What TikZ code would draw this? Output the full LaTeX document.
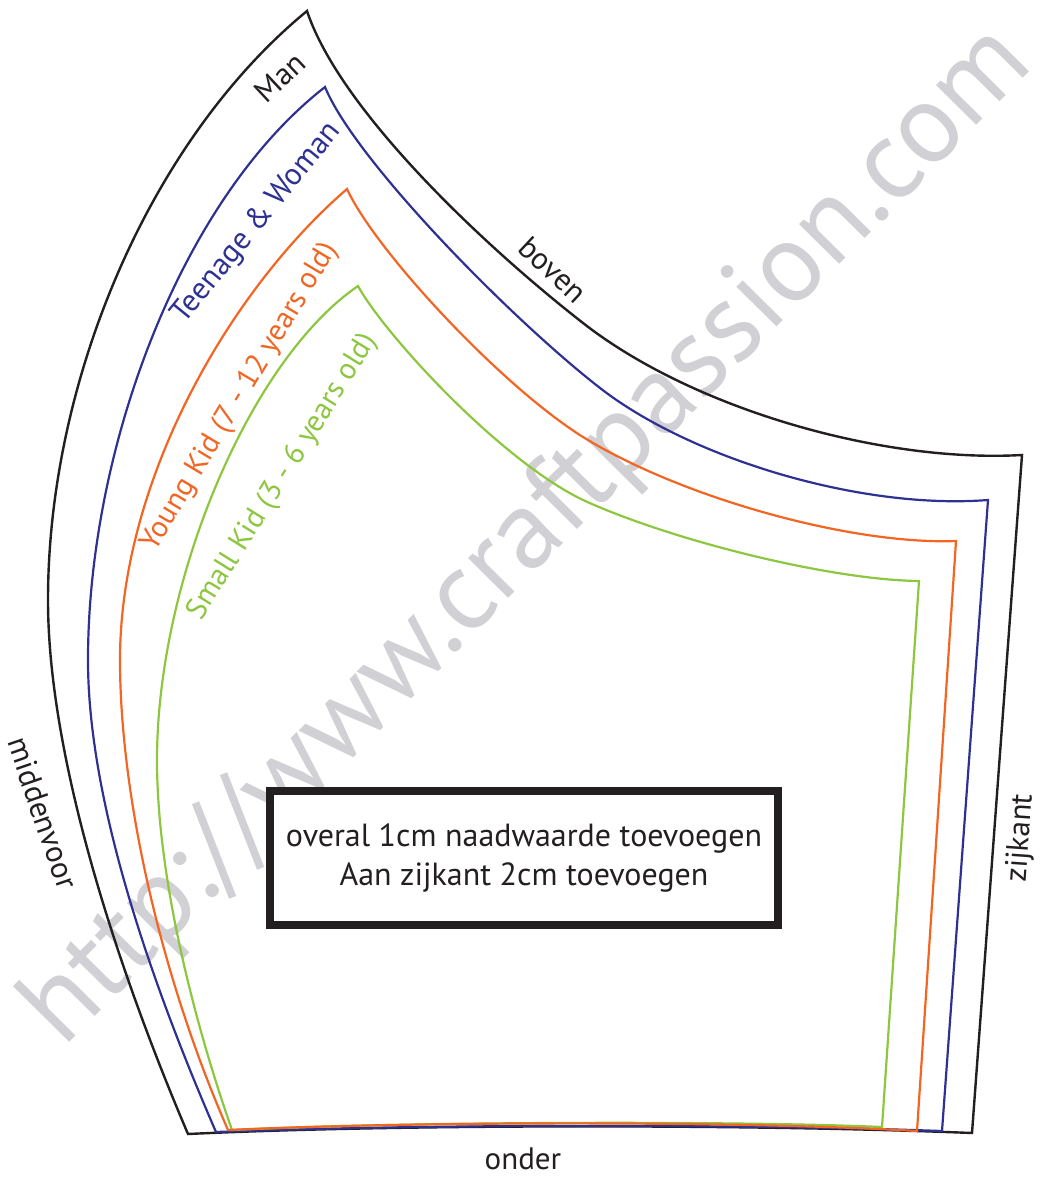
\documentclass[tikz,border=0pt]{standalone}
\usepackage{fontspec}
\setmainfont{PT Sans}
\definecolor{manblack}{HTML}{231F20}
\definecolor{teenblue}{HTML}{2E3192}
\definecolor{youngorange}{HTML}{F26522}
\definecolor{smallgreen}{HTML}{8DC63F}
\definecolor{markgray}{HTML}{D1D0D4}

\begin{document}
\begin{tikzpicture}[
        x=0.5pt,y=-0.5pt,
        outline/.style={line width=1.1pt, line join=miter},
        manline/.style={outline, draw=manblack, line width=1.2pt},
        teenline/.style={outline, draw=teenblue},
        youngline/.style={outline, draw=youngorange},
        smallline/.style={outline, draw=smallgreen},
        sizelabel/.style={font=\fontsize{15.5}{17}\selectfont, inner sep=0pt},
        sidelabel/.style={font=\fontsize{15.5}{17}\selectfont, text=manblack, inner sep=0pt},
        watermark/.style={font=\fontsize{56.5}{60}\selectfont, text=markgray, inner sep=0pt, rotate=45.3},
        notebox/.style={draw=manblack, line width=4pt, fill=white, minimum width=254pt, minimum height=67pt, align=center, font=\fontsize{16}{19.5}\selectfont, text=manblack},
    ]
    \useasboundingbox (0,0) rectangle (1054,1177);
    \node[watermark] (mark) at (529,537) {http://www.craftpassion.com};

    \coordinate (mantip) at (307,11);
    \coordinate (manleft) at (48,600);
    \coordinate (mantop) at (583,323);
    \coordinate (mantr) at (1022,455);
    \coordinate (manbr) at (972,1133);
    \coordinate (manbl) at (188,1134);
    \coordinate (teentip) at (325,87);
    \coordinate (teenleft) at (88,660);
    \coordinate (teentop) at (600,388);
    \coordinate (teentr) at (988,500);
    \coordinate (teenbr) at (942,1131);
    \coordinate (teenbl) at (216,1132);
    \coordinate (youngtip) at (347,189);
    \coordinate (youngleft) at (120,660);
    \coordinate (youngtop) at (583,437);
    \coordinate (youngtr) at (956,541);
    \coordinate (youngbr) at (917,1131);
    \coordinate (youngbl) at (228,1130);
    \coordinate (smalltip) at (358,286);
    \coordinate (smallleft) at (157,760);
    \coordinate (smalltop) at (583,500);
    \coordinate (smalltr) at (919,581);
    \coordinate (smallbr) at (882,1127);
    \coordinate (smallbl) at (232,1130);

    \draw[manline] (manbl) .. controls (120,975) and (48,760) .. (manleft)
        .. controls (48,380) and (150,140) .. (mantip)
        .. controls (340,110) and (483,245) .. (mantop)
        .. controls (693,409) and (882,463) .. (mantr)
        -- (manbr)
        .. controls (750,1124) and (400,1124) .. (manbl) -- cycle;
    \draw[teenline] (teenbl) .. controls (150,980) and (88,800) .. (teenleft)
        .. controls (88,450) and (180,200) .. (teentip)
        .. controls (355,160) and (510,318) .. (teentop)
        .. controls (690,458) and (860,510) .. (teentr)
        -- (teenbr)
        .. controls (750,1124) and (420,1124) .. (teenbl) -- cycle;
    \draw[smallline] (smallbl) .. controls (190,1010) and (157,870) .. (smallleft)
        .. controls (157,580) and (250,360) .. (smalltip)
        .. controls (385,335) and (500,460) .. (smalltop)
        .. controls (670,540) and (830,580) .. (smalltr)
        -- (smallbr)
        .. controls (750,1121) and (420,1121) .. (smallbl) -- cycle;
    \draw[youngline] (youngbl) .. controls (158,970) and (120,790) .. (youngleft)
        .. controls (120,480) and (230,290) .. (youngtip)
        .. controls (375,250) and (500,385) .. (youngtop)
        .. controls (680,497) and (850,545) .. (youngtr)
        -- (youngbr)
        .. controls (750,1121) and (420,1121) .. (youngbl) -- cycle;

    \node[sizelabel, text=manblack, rotate=43] (manlabel) at (280,77) {Man};
    \node[sizelabel, text=teenblue, rotate=51] (teenlabel) at (257,223) {Teenage \& Woman};
    \node[sizelabel, text=youngorange, rotate=59, font=\fontsize{15}{17}\selectfont] (younglabel) at (240,397) {Young Kid (7 - 12 years old)};
    \node[sizelabel, text=smallgreen, rotate=58, font=\fontsize{15}{17}\selectfont] (smalllabel) at (283,477) {Small Kid (3 - 6 years old)};
    \node[sidelabel, rotate=-43] (bovenlabel) at (553,270) {boven};
    \node[sidelabel, rotate=-71] (middenlabel) at (43,813) {middenvoor};
    \node[sidelabel, rotate=86] (zijlabel) at (1021,838) {zijkant};
    \node[sidelabel] (onderlabel) at (523,1159) {onder};

    \node[notebox] (note) at (524,858) {overal 1cm naadwaarde toevoegen\\Aan zijkant 2cm toevoegen};
\end{tikzpicture}
\end{document}
